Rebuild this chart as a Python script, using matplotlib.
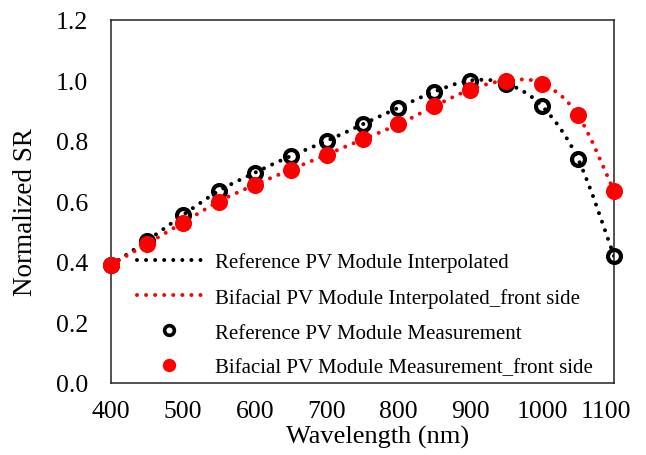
import numpy as np
import matplotlib
matplotlib.use('Agg')
import matplotlib.pyplot as plt
import matplotlib.transforms as mtransforms
from matplotlib.path import Path
from matplotlib.patches import PathPatch
from matplotlib.lines import Line2D

plt.rcParams['font.family'] = ['Liberation Serif', 'DejaVu Serif']

# Data
wavelength = [400, 450, 500, 550, 600, 650, 700, 750, 800, 850, 900, 950, 1000, 1050, 1100]
sr_reference = [0.39, 0.47, 0.555, 0.635, 0.695, 0.75, 0.80, 0.855, 0.91, 0.963,
                1.0, 0.99, 0.915, 0.74, 0.42]
sr_bifacial = [0.39, 0.46, 0.53, 0.60, 0.655, 0.705, 0.755, 0.805, 0.855, 0.915,
               0.97, 1.0, 0.99, 0.885, 0.635]
labels = ['Reference PV Module Interpolated',
          'Bifacial PV Module Interpolated_front side',
          'Reference PV Module Measurement',
          'Bifacial PV Module Measurement_front side']


def smooth_path(x, y):
    # Excel-style smoothed line: Catmull-Rom converted to cubic bezier segments
    pts = np.column_stack([x, y]).astype(float)
    n = len(pts)
    verts = [pts[0]]
    codes = [Path.MOVETO]
    for i in range(n - 1):
        p0 = pts[max(i - 1, 0)]
        p1 = pts[i]
        p2 = pts[i + 1]
        p3 = pts[min(i + 2, n - 1)]
        c1 = p1 + (p2 - p0) / 6
        c2 = p2 - (p3 - p1) / 6
        verts += [c1, c2, p2]
        codes += [Path.CURVE4] * 3
    return Path(verts, codes)


red = '#ff0000'
lw_dot = 2.9
dot = (0, (0.001, 2.25))

fig = plt.figure(figsize=(6.46, 4.56), dpi=100)
ax = fig.add_axes([111 / 646, 1 - 384 / 456, (614 - 111) / 646, (384 - 21) / 456])

ax.add_patch(PathPatch(smooth_path(wavelength, sr_reference), fill=False,
                       edgecolor='black', lw=lw_dot, linestyle=dot, capstyle='round', zorder=2))
ax.add_patch(PathPatch(smooth_path(wavelength, sr_bifacial), fill=False,
                       edgecolor=red, lw=lw_dot, linestyle=dot, capstyle='round', zorder=2))

ax.plot(wavelength, sr_reference, 'o', ms=9.3, mfc='none',
        mec='black', mew=3.0, ls='none', zorder=3, clip_on=False)
ax.plot(wavelength, sr_bifacial, 'o', ms=12.3, mfc=red, mec=red,
        mew=0, ls='none', zorder=4, clip_on=False)

ax.set_xlim(400, 1100)
ax.set_ylim(0, 1.2)
ax.set_xticks(range(400, 1101, 100))
ax.set_yticks(np.arange(0, 1.21, 0.2))
ax.set_yticklabels(['%.1f' % v for v in np.arange(0, 1.21, 0.2)])
ax.tick_params(length=0, labelsize=18.5)
ax.tick_params(axis='x', pad=12)
ax.tick_params(axis='y', pad=16.5)
for s in ax.spines.values():
    s.set_linewidth(1.1)
    s.set_color('#222222')

# Excel nudges the last x label inward
fig.canvas.draw()
last = ax.get_xticklabels()[-1]
last.set_transform(last.get_transform() +
                   mtransforms.ScaledTranslation(-8 / 100, 0, fig.dpi_scale_trans))

ax.set_xlabel('Wavelength (nm)', fontsize=19)
ax.xaxis.set_label_coords(0.53, -0.116)
ax.set_ylabel('Normalized SR', fontsize=19.5)
ax.yaxis.set_label_coords(-0.145, 0.474)

handles = [
    Line2D([], [], color='black', lw=lw_dot, ls=dot, dash_capstyle='round'),
    Line2D([], [], color=red, lw=lw_dot, ls=dot, dash_capstyle='round'),
    Line2D([], [], marker='o', ms=7, mfc='none', mec='black', mew=2.6, ls='none'),
    Line2D([], [], marker='o', ms=9.6, mfc=red, mec=red, mew=0, ls='none'),
]
ax.legend(handles, labels, loc='upper left', bbox_to_anchor=(0.0517, 0.36),
          frameon=False, fontsize=15, handlelength=3.1, handletextpad=0.62,
          labelspacing=0.74, borderpad=0, borderaxespad=0)

fig.savefig('out.png', dpi=100)
